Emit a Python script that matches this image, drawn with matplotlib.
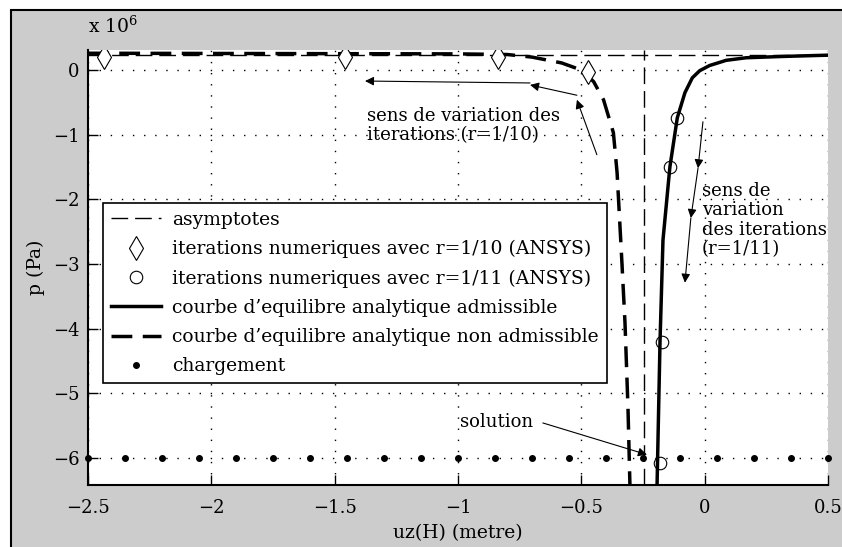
import matplotlib
matplotlib.use("Agg")
import matplotlib.pyplot as plt
from matplotlib.lines import Line2D
from matplotlib.patches import Rectangle

plt.rcParams["font.family"] = ["DejaVu Serif"]
plt.rcParams["mathtext.fontset"] = "dejavuserif"
plt.rcParams["axes.unicode_minus"] = True

# p values are in units of 1e6 Pa
asym_x = -0.245
asym_p = 0.23

adm_x = [-0.193, -0.181, -0.169, -0.141, -0.111, -0.08, -0.05, -0.02, 0.02, 0.087, 0.168, 0.314, 0.5]
adm_p = [-6.42, -4.2, -2.63, -1.5, -0.74, -0.35, -0.12, -0.01, 0.07, 0.15, 0.19, 0.21, 0.23]

nonadm_x = [-2.5, -1.0, -0.8, -0.7, -0.58, -0.5, -0.45, -0.41, -0.37, -0.355, -0.336, -0.323, -0.311, -0.303]
nonadm_p = [0.26, 0.25, 0.24, 0.20, 0.11, 0.0, -0.18, -0.46, -0.97, -1.59, -2.94, -3.91, -5.21, -6.42]

iter10_x = [-2.435, -1.458, -0.838, -0.473]
iter10_p = [0.2, 0.2, 0.2, -0.03]

iter11_x = [-0.111, -0.141, -0.173, -0.181]
iter11_p = [-0.74, -1.5, -4.2, -6.08]

charge_x = [-2.5, -2.35, -2.2, -2.05, -1.9, -1.75, -1.6, -1.45, -1.3, -1.15, -1.0,
            -0.85, -0.7, -0.55, -0.4, -0.25, -0.1, 0.05, 0.2, 0.35, 0.5]
charge_p = [-6] * len(charge_x)

xticks = [-2.5, -2, -1.5, -1, -0.5, 0, 0.5]
xticklabels = ["\u22122.5", "\u22122", "\u22121.5", "\u22121", "\u22120.5", "0", "0.5"]
yticks = [0, -1, -2, -3, -4, -5, -6]
yticklabels = ["0", "\u22121", "\u22122", "\u22123", "\u22124", "\u22125", "\u22126"]

legend_labels = [
    "asymptotes",
    "iterations numeriques avec r=1/10 (ANSYS)",
    "iterations numeriques avec r=1/11 (ANSYS)",
    "courbe d\u2019equilibre analytique admissible",
    "courbe d\u2019equilibre analytique non admissible",
    "chargement",
]

fig = plt.figure(figsize=(8.42, 5.47), dpi=100, facecolor="white")
fig.patches.append(Rectangle((11 / 842, -0.1), 1.2, 1 - 10 / 547 + 0.1, transform=fig.transFigure,
                             facecolor="#cccccc", edgecolor="black", linewidth=1.5, zorder=-10))

ax = fig.add_axes([88 / 842, 1 - 485 / 547, 740 / 842, 435 / 547])
ax.set_facecolor("white")

ax.axvline(asym_x, color="k", lw=1, dashes=(12, 5))
ax.axhline(asym_p, color="k", lw=1, dashes=(12, 5))
ax.plot(adm_x, adm_p, color="k", lw=2.5)
ax.plot(nonadm_x, nonadm_p, color="k", lw=2.5, dashes=(6, 3))
ax.plot(iter10_x, iter10_p, ls="none", marker="d", ms=12, mfc="white", mec="k", mew=0.8)
ax.plot(iter11_x, iter11_p, ls="none", marker="o", ms=9, mfc="none", mec="k", mew=0.8)
ax.plot(charge_x, charge_p, ls="none", marker="o", ms=4, color="k", clip_on=False)

ax.set_xlim(-2.5, 0.5)
ax.set_ylim(-6.42, 0.31)
ax.set_xticks(xticks)
ax.set_xticklabels(xticklabels)
ax.set_yticks(yticks)
ax.set_yticklabels(yticklabels)
ax.tick_params(direction="in", length=7, width=1, labelsize=13, pad=10)
ax.tick_params(axis="y", pad=6)
ax.grid(True, color="k", lw=1, linestyle=(0, (1, 7)))
ax.spines["top"].set_visible(False)
ax.spines["right"].set_visible(False)
ax.spines["left"].set_linewidth(1.5)
ax.spines["bottom"].set_linewidth(1.5)

ax.set_xlabel("uz(H) (metre)", fontsize=13.5, labelpad=5)
ax.set_ylabel("p (Pa)", fontsize=13.5, labelpad=6)
ax.text(0.0, 1.03, r"x 10$^6$", transform=ax.transAxes, fontsize=13.5, ha="left", va="bottom")

arrow = dict(arrowstyle="-|>", color="k", lw=0.8, mutation_scale=13, shrinkA=0, shrinkB=0)
ax.annotate("", xy=(-0.518, -0.46), xytext=(-0.437, -1.31), arrowprops=arrow)
ax.annotate("", xy=(-0.708, -0.23), xytext=(-0.518, -0.39), arrowprops=arrow)
ax.annotate("", xy=(-1.377, -0.17), xytext=(-0.708, -0.2), arrowprops=arrow)
ax.text(-1.37, -0.86, "sens de variation des\niterations (r=1/10)", fontsize=13,
        ha="left", va="center", linespacing=1.1)

ax.annotate("", xy=(-0.027, -1.52), xytext=(-0.007, -0.80), arrowprops=arrow)
ax.annotate("", xy=(-0.056, -2.29), xytext=(-0.027, -1.52), arrowprops=arrow)
ax.annotate("", xy=(-0.080, -3.29), xytext=(-0.056, -2.29), arrowprops=arrow)
ax.text(-0.011, -2.32, "sens de\nvariation\ndes iterations\n(r=1/11)", fontsize=13,
        ha="left", va="center", linespacing=1.1)

ax.annotate("", xy=(-0.234, -5.95), xytext=(-0.656, -5.46), arrowprops=arrow)
ax.text(-0.992, -5.44, "solution", fontsize=13, ha="left", va="center")

handles = [
    Line2D([], [], color="k", lw=1, dashes=(12, 5)),
    Line2D([], [], ls="none", marker="d", ms=12, mfc="white", mec="k", mew=0.8),
    Line2D([], [], ls="none", marker="o", ms=9, mfc="none", mec="k", mew=0.8),
    Line2D([], [], color="k", lw=2.5),
    Line2D([], [], color="k", lw=2.5, dashes=(6, 3)),
    Line2D([], [], ls="none", marker="o", ms=4, color="k"),
]
leg = ax.legend(handles, legend_labels, loc="upper left", bbox_to_anchor=(0.0203, 0.648),
                borderaxespad=0, fancybox=False, edgecolor="k", framealpha=1, fontsize=13.5,
                handlelength=2.7, handletextpad=0.6, labelspacing=0.6, borderpad=0.4)
leg.get_frame().set_linewidth(1.2)

fig.savefig("out.png", dpi=100)
